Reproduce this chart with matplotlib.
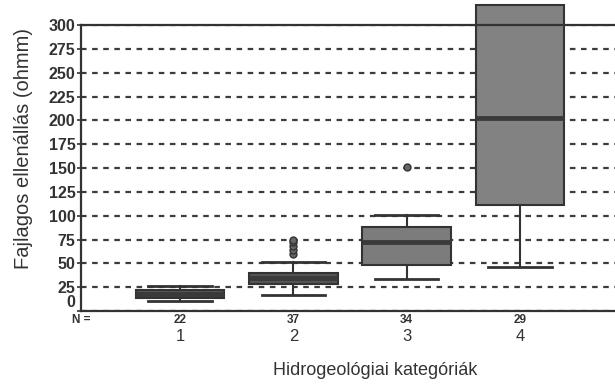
import matplotlib
matplotlib.use('Agg')
from matplotlib import pyplot as plt
from matplotlib import transforms

# Fajlagos ellenállás kategóriánként (dobozdiagram statisztikái)
kategoriak = ['1', '2', '3', '4']
n_minta = [22, 37, 34, 29]
also_bajusz = [11, 17, 34, 46]
also_kvartilis = [14, 28, 48, 111]
median = [18, 35, 72, 203]
felso_kvartilis = [22, 40, 88, 321]
felso_bajusz = [26, 52, 101, 321]
kiugrok = [[], [60, 64, 68, 72, 75], [151], []]

y_tickek = [0, 25, 50, 75, 100, 125, 150, 175, 200, 225, 250, 275, 300]

plt.rcParams['font.family'] = ['Liberation Sans', 'DejaVu Sans']
sotet = '#333333'
doboz_szinek = ['#555555', '#555555', '#7c7c7c', '#828282']

fig = plt.figure(figsize=(6.15, 3.86), dpi=100)
ax = fig.add_axes([0.132, 0.194, 0.892, 0.741])

stats = []
for i in range(len(kategoriak)):
    stats.append(dict(whislo=also_bajusz[i], q1=also_kvartilis[i], med=median[i],
                      q3=felso_kvartilis[i], whishi=felso_bajusz[i],
                      fliers=kiugrok[i], label=kategoriak[i]))

pozicio = list(range(1, len(kategoriak) + 1))
elemek = ax.bxp(stats, positions=pozicio, widths=0.78, patch_artist=True,
                showfliers=True,
                boxprops=dict(edgecolor=sotet, linewidth=1.5),
                medianprops=dict(color='#3a3a3a', linewidth=3.5),
                whiskerprops=dict(color=sotet, linewidth=1.5),
                capprops=dict(color=sotet, linewidth=2),
                flierprops=dict(marker='o', markersize=5, markerfacecolor='#666666',
                                markeredgecolor=sotet, markeredgewidth=1))
for doboz, szin in zip(elemek['boxes'], doboz_szinek):
    doboz.set_facecolor(szin)
# a negyedik doboz kilóg a tengely fölé
for kulcs in ('boxes', 'medians', 'whiskers', 'caps'):
    for e in elemek[kulcs]:
        e.set_clip_on(False)
for c in elemek['caps']:
    x = c.get_xdata()
    kozep = (x[0] + x[1]) / 2
    c.set_xdata([kozep - 0.28, kozep + 0.28])
# a 4. doboz felső bajusza nem látszik
elemek['caps'][7].set_visible(False)

ax.set_xlim(0.126, 4.97)
ax.set_ylim(0, 300)
ax.set_yticks(y_tickek)
ax.set_yticklabels([''] + [str(t) for t in y_tickek[1:]], fontsize=11.5,
                   fontweight='bold', color=sotet)
# a nulla felirat kicsit feljebb kerül, hogy ne érjen össze az N = felirattal
ax.annotate('0', xy=(0, 0), xycoords=('axes fraction', 'data'),
            xytext=(-4.5, 6), textcoords='offset points', ha='right', va='center',
            fontsize=11.5, fontweight='bold', color=sotet)
ax.yaxis.grid(True, linestyle=(0, (2.5, 2.5)), linewidth=1.6, color='#3c3c3c')
ax.set_axisbelow(True)

ax.set_xticks(pozicio)
ax.set_xticklabels(kategoriak, fontsize=12, color=sotet)
ax.tick_params(axis='x', length=0, pad=13)
ax.tick_params(axis='y', length=3, width=1.2, color=sotet, pad=1)

for s in ('left', 'bottom', 'top'):
    ax.spines[s].set_color(sotet)
    ax.spines[s].set_linewidth(1.6)
ax.spines['right'].set_visible(False)

# esetszámok a tengely alatt
tr = transforms.blended_transform_factory(ax.transData, ax.transAxes)
for p, n in zip(pozicio, n_minta):
    ax.text(p, -0.03, str(n), transform=tr, ha='center', va='center',
            fontsize=8.5, fontweight='bold', color=sotet)
ax.text(0.0, -0.03, 'N =', transform=ax.transAxes, ha='center', va='center',
        fontsize=8.5, fontweight='bold', color=sotet)

ax.set_xlabel('Hidrogeológiai kategóriák', fontsize=13, color=sotet)
ax.xaxis.set_label_coords(0.536, -0.178)
ax.set_ylabel('Fajlagos ellenállás (ohmm)', fontsize=14.5, color=sotet)
ax.yaxis.set_label_coords(-0.088, 0.57)

fig.savefig('out.png', dpi=100)
